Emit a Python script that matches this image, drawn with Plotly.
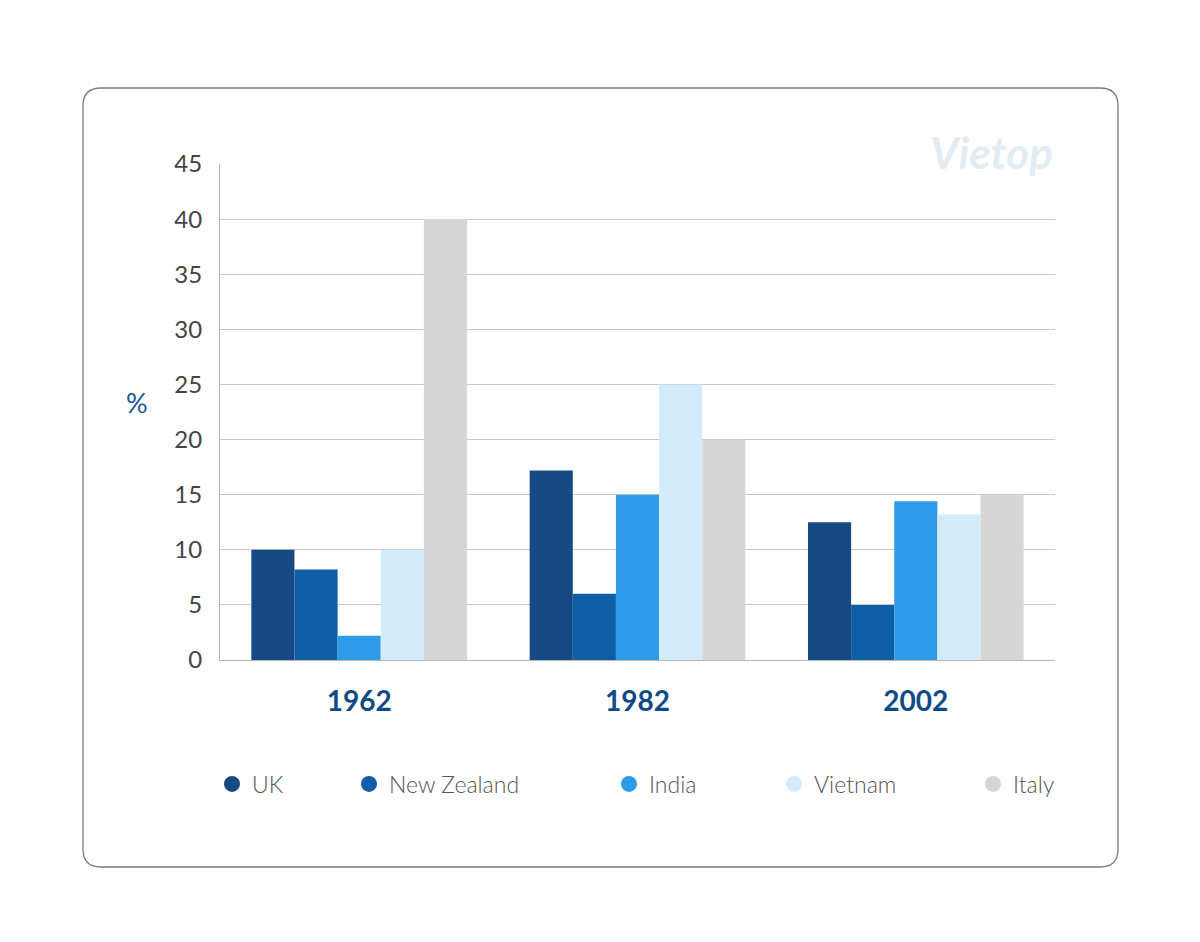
import plotly.graph_objects as go

# data
years = ['1962', '1982', '2002']
countries = ['UK', 'New Zealand', 'India', 'Vietnam', 'Italy']
uk = [10, 17.2, 12.5]
new_zealand = [8.2, 6, 5]
india = [2.2, 15, 14.4]
vietnam = [10, 25, 13.2]
italy = [40, 20, 15]
y_ticks = [0, 5, 10, 15, 20, 25, 30, 35, 40, 45]

colors = ['#174a85', '#0f5fa6', '#2f9be8', '#d3ebfa', '#d6d6d6']
series = [uk, new_zealand, india, vietnam, italy]

W, H = 1200, 942
OFF = 8  # page body margin offsets the figure, compensate for it


def px_x(p):
    return (p - OFF) / W


def px_y(p):
    return 1 - (p - OFF) / H


fig = go.Figure()

for name, vals, col in zip(countries, series, colors):
    fig.add_trace(go.Bar(x=years, y=vals, name=name, marker=dict(color=col, line=dict(width=0)),
                         showlegend=False))

# legend entries as round markers, each in its own legend so they can be spaced like the picture
legend_x = [232, 369, 629, 794, 993]
legends = {}
for i, (name, col) in enumerate(zip(countries, colors)):
    key = 'legend' if i == 0 else 'legend%d' % (i + 1)
    fig.add_trace(go.Scatter(x=[None], y=[None], mode='markers', name=name,
                             marker=dict(color=col, size=26, symbol='circle'),
                             legend=key, showlegend=True))
    legends[key] = dict(x=px_x(legend_x[i] - 20), y=px_y(784), xanchor='left', yanchor='middle',
                        bgcolor='rgba(0,0,0,0)', borderwidth=0,
                        font=dict(family='Lato', size=23, color='#555555', weight=300),
                        itemsizing='trace')

# rounded card border
x0, x1 = px_x(83), px_x(1118)
y0, y1 = px_y(867), px_y(88)
rx, ry = 18 / W, 18 / H
card = (f'M {x0 + rx},{y1} L {x1 - rx},{y1} Q {x1},{y1} {x1},{y1 - ry} '
        f'L {x1},{y0 + ry} Q {x1},{y0} {x1 - rx},{y0} L {x0 + rx},{y0} '
        f'Q {x0},{y0} {x0},{y0 + ry} L {x0},{y1 - ry} Q {x0},{y1} {x0 + rx},{y1} Z')

fig.update_layout(
    width=W, height=H,
    margin=dict(l=0, r=0, t=0, b=0, autoexpand=False),
    paper_bgcolor='white',
    plot_bgcolor='white',
    barmode='group',
    bargap=0.225,
    bargroupgap=0,
    shapes=[dict(type='path', path=card, xref='paper', yref='paper',
                 line=dict(color='#7a7a7a', width=1.3), layer='below')],
    annotations=[
        dict(text='%', x=px_x(137), y=px_y(402), xref='paper', yref='paper',
             xanchor='center', yanchor='middle', showarrow=False,
             font=dict(family='Lato', size=27, color='#1a5694')),
        dict(text='<i><b>Vietop</b></i>', x=px_x(992), y=px_y(152), xref='paper', yref='paper',
             xanchor='center', yanchor='middle', showarrow=False,
             font=dict(family='Lato', size=44, color='#e2ecf5')),
    ],
    xaxis=dict(domain=[px_x(220), px_x(1055)], showgrid=False, showline=True,
               linecolor='#b5b5b5', linewidth=1, ticks='outside', ticklen=16,
               tickcolor='rgba(0,0,0,0)',
               tickfont=dict(family='Lato', size=28, color='#0e4a85', weight='bold')),
    yaxis=dict(domain=[px_y(660), px_y(164)], range=[0, 45], tickvals=y_ticks,
               showgrid=True, gridcolor='#c9c9c9', gridwidth=1, zeroline=False,
               showline=True, linecolor='#b5b5b5', linewidth=1,
               ticks='outside', ticklen=12, tickcolor='rgba(0,0,0,0)',
               tickfont=dict(family='Lato', size=24, color='#444444')),
    **legends,
)

fig.write_html("out.html")
